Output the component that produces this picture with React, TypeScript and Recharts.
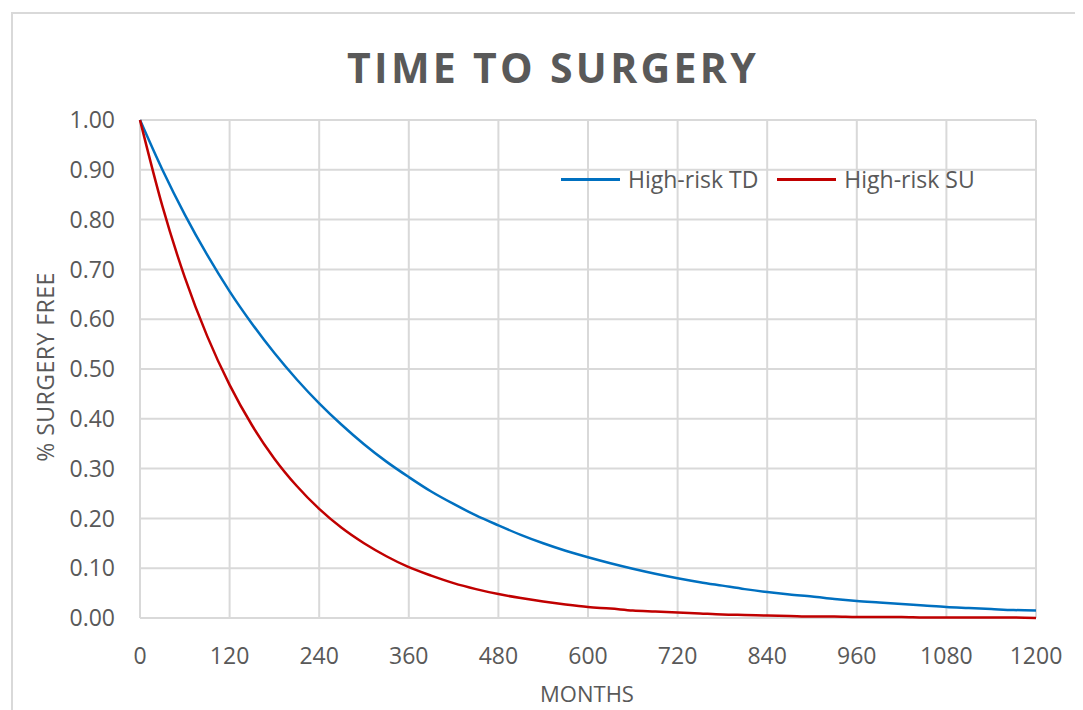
import { CartesianGrid, Label, Line, LineChart, XAxis, YAxis } from "recharts";

// months since baseline, sampled every 30 months
const months = [
  0, 30, 60, 90, 120, 150, 180, 210, 240, 270, 300, 330, 360, 390, 420, 450, 480, 510, 540, 570, 600,
  630, 660, 690, 720, 750, 780, 810, 840, 870, 900, 930, 960, 990, 1020, 1050, 1080, 1110, 1140, 1170, 1200,
];

const highRiskTD = [
  1.0, 0.9, 0.81, 0.729, 0.656, 0.591, 0.532, 0.479, 0.431, 0.388, 0.349, 0.314, 0.283, 0.254, 0.229,
  0.206, 0.186, 0.167, 0.15, 0.135, 0.122, 0.11, 0.099, 0.089, 0.08, 0.072, 0.065, 0.058, 0.052, 0.047,
  0.043, 0.038, 0.034, 0.031, 0.028, 0.025, 0.022, 0.02, 0.018, 0.016, 0.015,
];

const highRiskSU = [
  1.0, 0.827, 0.684, 0.566, 0.468, 0.387, 0.32, 0.265, 0.219, 0.181, 0.15, 0.124, 0.102, 0.085, 0.07,
  0.058, 0.048, 0.04, 0.033, 0.027, 0.022, 0.019, 0.015, 0.013, 0.011, 0.009, 0.007, 0.006, 0.005, 0.004,
  0.003, 0.003, 0.002, 0.002, 0.002, 0.001, 0.001, 0.001, 0.001, 0.001, 0.0,
];

const xTicks = [0, 120, 240, 360, 480, 600, 720, 840, 960, 1080, 1200];
const yTicks = [0, 0.1, 0.2, 0.3, 0.4, 0.5, 0.6, 0.7, 0.8, 0.9, 1.0];

const seriesNames = { td: "High-risk TD", su: "High-risk SU" };

const data = months.map((m, i) => ({ month: m, td: highRiskTD[i], su: highRiskSU[i] }));

const GRAY = "#595959";
const BLUE = "#0070c0";
const RED = "#c00000";

// legend drawn as an overlay so it takes no room from the plot area
function ChartLegend() {
  const items = [
    { name: seriesNames.td, color: BLUE },
    { name: seriesNames.su, color: RED },
  ];
  return (
    <div
      style={{
        position: "absolute",
        left: 553,
        top: 155,
        display: "flex",
        alignItems: "center",
        fontSize: 23,
        color: GRAY,
        whiteSpace: "nowrap",
      }}
    >
      {items.map((it) => (
        <div key={it.name} style={{ display: "flex", alignItems: "center", marginRight: 19 }}>
          <span style={{ display: "inline-block", width: 59, height: 3, background: it.color, marginRight: 8 }} />
          <span>{it.name}</span>
        </div>
      ))}
    </div>
  );
}

export default function App() {
  return (
    <div
      style={{
        position: "relative",
        width: 1075,
        height: 702,
        overflow: "hidden",
        fontFamily: "'Open Sans', sans-serif",
        background: "#fff",
      }}
    >
      <div
        style={{
          position: "absolute",
          left: 3,
          top: 4,
          width: 1200,
          height: 800,
          borderLeft: "2px solid #d9d9d9",
          borderTop: "2px solid #d9d9d9",
        }}
      />
      <div
        style={{
          position: "absolute",
          left: 0,
          width: 1090,
          top: 31,
          textAlign: "center",
          fontSize: 41,
          fontWeight: 700,
          letterSpacing: 3.3,
          color: GRAY,
        }}
      >
        TIME TO SURGERY
      </div>
      <LineChart
        width={1075}
        height={702}
        data={data}
        margin={{ top: 112, right: 47, bottom: 0, left: 0 }}
        style={{ position: "absolute", left: 0, top: 0 }}
      >
        <CartesianGrid stroke="#d9d9d9" strokeWidth={2} />
        <XAxis
          dataKey="month"
          type="number"
          domain={[0, 1200]}
          ticks={xTicks}
          height={92}
          axisLine={false}
          tickLine={false}
          tickSize={0}
          tickMargin={30}
          tick={{ fill: GRAY, fontSize: 23 }}
        >
          <Label
            content={() => (
              <text x={579} y={694} textAnchor="middle" fill={GRAY} fontSize={22}>
                MONTHS
              </text>
            )}
          />
        </XAxis>
        <YAxis
          type="number"
          domain={[0, 1]}
          ticks={yTicks}
          width={132}
          axisLine={false}
          tickLine={false}
          tickSize={0}
          tickMargin={25}
          tickFormatter={(v: number) => v.toFixed(2)}
          tick={{ fill: GRAY, fontSize: 23 }}
        >
          <Label
            content={() => (
              <text
                x={37}
                y={359}
                transform="rotate(-90 37 359)"
                textAnchor="middle"
                dominantBaseline="central"
                fill={GRAY}
                fontSize={23}
                letterSpacing={0.5}
              >
                % SURGERY FREE
              </text>
            )}
          />
        </YAxis>
        <Line
          type="monotone"
          dataKey="td"
          name={seriesNames.td}
          stroke={BLUE}
          strokeWidth={2.5}
          dot={false}
          isAnimationActive={false}
        />
        <Line
          type="monotone"
          dataKey="su"
          name={seriesNames.su}
          stroke={RED}
          strokeWidth={2.5}
          dot={false}
          isAnimationActive={false}
        />
      </LineChart>
      <ChartLegend />
    </div>
  );
}
